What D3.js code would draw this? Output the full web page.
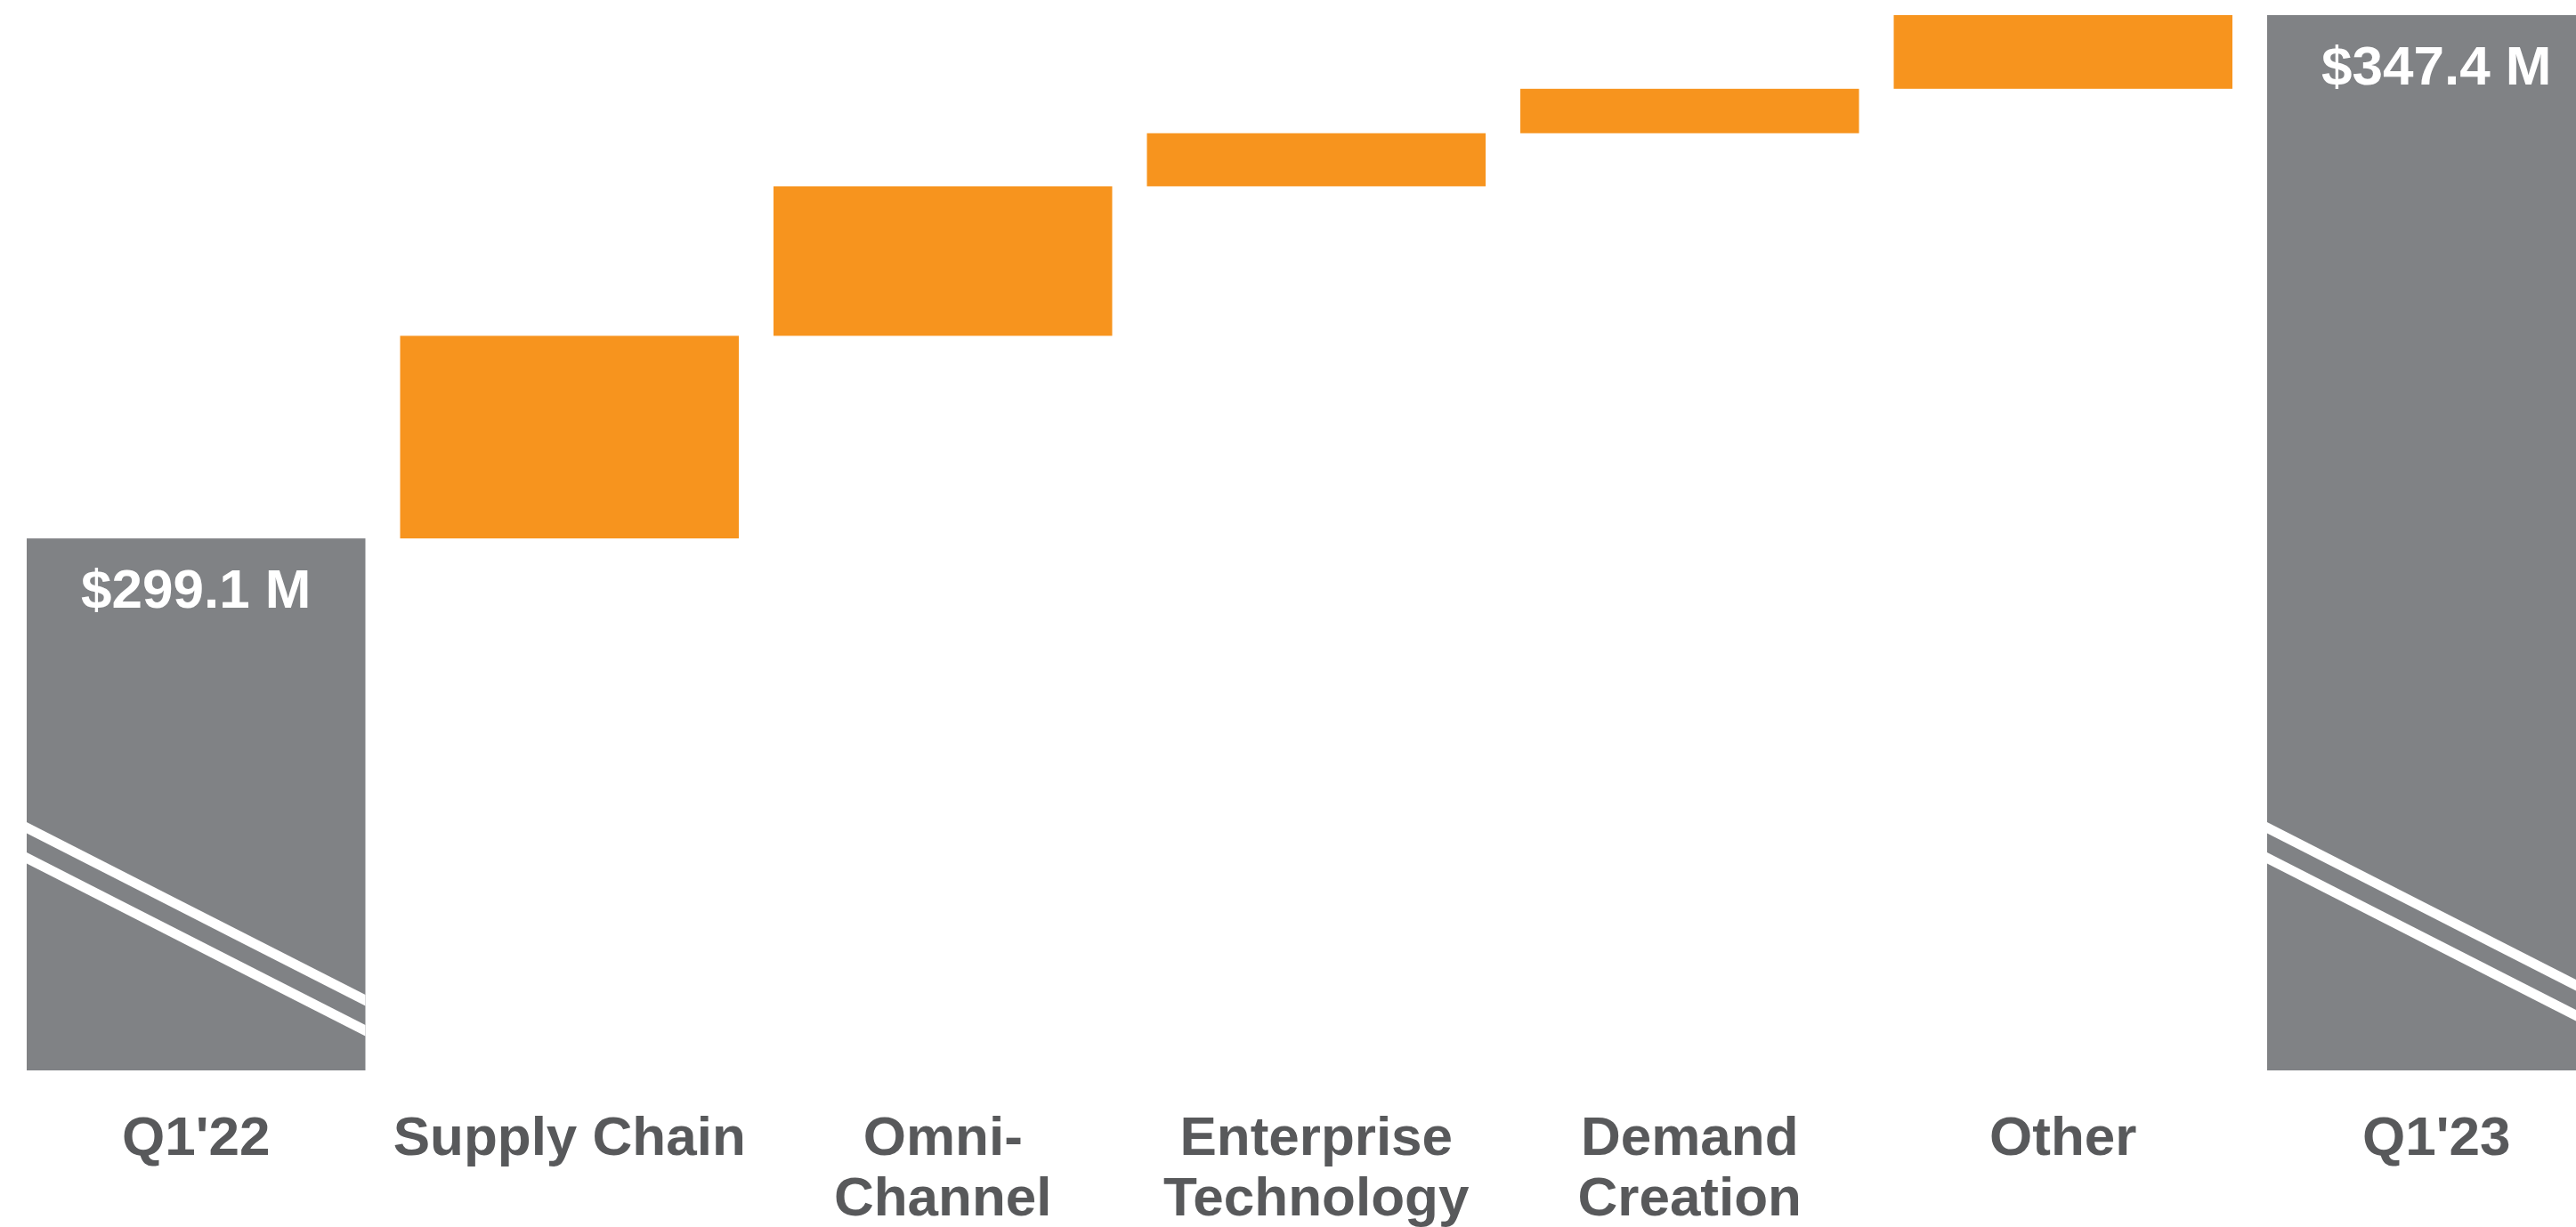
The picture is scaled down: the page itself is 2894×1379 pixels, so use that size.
<!DOCTYPE html>
<html>
<head>
<meta charset="utf-8">
<script src="https://cdn.jsdelivr.net/npm/d3@7"></script>
<style>
  html, body { margin: 0; padding: 0; background: #ffffff; overflow: hidden; }
  svg { display: block; }
</style>
</head>
<body>
<div id="chart"></div>
<script>
// Waterfall: Q1'22 -> Q1'23 revenue bridge (values in $M)
const categories = ["Q1'22", "Supply Chain", "Omni-Channel", "Enterprise Technology", "Demand Creation", "Other", "Q1'23"];
const labelLines = [["Q1'22"], ["Supply Chain"], ["Omni-", "Channel"], ["Enterprise", "Technology"], ["Demand", "Creation"], ["Other"], ["Q1'23"]];
const startTotal = 299.1;
const endTotal = 347.4;
const deltas = [18.7, 13.8, 4.9, 4.1, 6.8];
const totalLabels = ["$299.1 M", "$347.4 M"];
const axisFloor = 250;      // broken axis: bars start here
const breakValue = 272.4;   // where the axis-break marks cross the bar edge

const config = {
    width: 2894,
    height: 1379,
    xRange: [-9, 2966.5],
    yRange: [1203, 17],
    padding: 0.093,
    grey: '#808285',
    orange: '#f7941e',
    labelColor: '#58595b',
    font: '"Liberation Sans", Arial, sans-serif',
    fontSize: 62
};

// build waterfall rows
const rows = [];
let running = startTotal;
rows.push({ cat: categories[0], y0: axisFloor, y1: startTotal, type: 'total', label: totalLabels[0] });
deltas.forEach((d, i) => {
    rows.push({ cat: categories[i + 1], y0: running, y1: running + d, type: 'delta' });
    running += d;
});
rows.push({ cat: categories[6], y0: axisFloor, y1: endTotal, type: 'total', label: totalLabels[1] });

const svg = d3.select('#chart')
    .append('svg')
    .attr('width', config.width)
    .attr('height', config.height);

const x = d3.scaleBand()
    .domain(categories)
    .range(config.xRange)
    .padding(config.padding);

const y = d3.scaleLinear()
    .domain([axisFloor, endTotal])
    .range(config.yRange);

// bars
svg.append('g')
    .selectAll('rect')
    .data(rows)
    .enter()
    .append('rect')
    .attr('x', d => x(d.cat))
    .attr('width', x.bandwidth())
    .attr('y', d => y(d.y1))
    .attr('height', d => y(d.y0) - y(d.y1))
    .attr('fill', d => d.type === 'total' ? config.grey : config.orange);

// axis-break marks on the total bars (clipped to each bar)
const totals = rows.filter(d => d.type === 'total');
const breakGap = 34;
const breakSlope = 0.51;
const defs = svg.append('defs');
const breaks = svg.append('g');
totals.forEach((d, k) => {
    const x0 = x(d.cat);
    const x1 = x0 + x.bandwidth();
    const yb = y(breakValue);
    defs.append('clipPath')
        .attr('id', 'clip-' + k)
        .append('rect')
        .attr('x', x0)
        .attr('width', x.bandwidth())
        .attr('y', y(d.y1))
        .attr('height', y(d.y0) - y(d.y1));
    const g = breaks.append('g').attr('clip-path', `url(#clip-${k})`);
    [0, breakGap].forEach(off => {
        g.append('line')
            .attr('x1', x0 - 10)
            .attr('y1', yb + off - 10 * breakSlope)
            .attr('x2', x1 + 10)
            .attr('y2', yb + off + breakSlope * (x1 - x0 + 10))
            .attr('stroke', '#ffffff')
            .attr('stroke-width', 11);
    });
});

// total value labels
svg.append('g')
    .selectAll('text')
    .data(totals)
    .enter()
    .append('text')
    .attr('x', d => x(d.cat) + x.bandwidth() / 2)
    .attr('y', d => y(d.y1) + 78)
    .attr('text-anchor', 'middle')
    .style('font-family', config.font)
    .style('font-weight', 'bold')
    .style('font-size', config.fontSize + 'px')
    .style('fill', '#ffffff')
    .text(d => d.label);

// category labels
const catLabels = svg.append('g')
    .selectAll('text')
    .data(categories)
    .enter()
    .append('text')
    .attr('x', d => x(d) + x.bandwidth() / 2)
    .attr('y', 1298)
    .attr('text-anchor', 'middle')
    .style('font-family', config.font)
    .style('font-weight', 'bold')
    .style('font-size', config.fontSize + 'px')
    .style('fill', config.labelColor);

catLabels.each(function (d, i) {
    const t = d3.select(this);
    labelLines[i].forEach((line, j) => {
        t.append('tspan')
            .attr('x', x(d) + x.bandwidth() / 2)
            .attr('dy', j === 0 ? 0 : 68)
            .text(line);
    });
});
</script>
</body>
</html>
